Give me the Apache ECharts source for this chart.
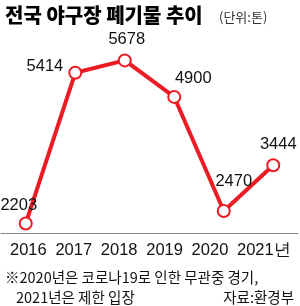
<!DOCTYPE html>
<html><head><meta charset="utf-8">
<script src="https://cdn.jsdelivr.net/npm/echarts@6/dist/echarts.min.js"></script>
<style>html,body{margin:0;padding:0;background:#fff}#c{width:300px;height:306px}</style>
</head><body><div id="c"></div>
<script>
const years = ['2016','2017','2018','2019','2020','2021'];
const yearLabels = ['2016','2017','2018','2019','2020','2021년'];
const waste = [2203, 5414, 5678, 4900, 2470, 3444];

const numFont = '"Liberation Sans Narrow", "Liberation Sans", Arial, sans-serif';
const krFont = '"Noto Sans CJK KR", sans-serif';
const red = '#ec1c24';

const labelCfg = [
  {position:'top', offset:[-7,2]},
  {position:'left', offset:[0,-6]},
  {position:'top', offset:[2,0]},
  {position:'top', offset:[19,2]},
  {position:'top', offset:[10,-9]},
  {position:'top', offset:[5,0]}
];

const chart = echarts.init(document.getElementById('c'), null, {renderer:'canvas'});
chart.setOption({
  animation:false,
  backgroundColor:'#fff',
  title:[
    {text:'전국 야구장 폐기물 추이', left:0, top:0, textStyle:{fontFamily:krFont, fontWeight:900, fontSize:20, color:'#000'}},
    {text:'(단위:톤)', left:214, top:6, textStyle:{fontFamily:krFont, fontWeight:'normal', fontSize:13, color:'#333'}},
    {text:'※2020년은 코로나19로 인한 무관중 경기,', left:0, top:265, textStyle:{fontFamily:krFont, fontWeight:'normal', fontSize:14.5, color:'#111'}},
    {text:'2021년은 제한 입장', left:11, top:285, textStyle:{fontFamily:krFont, fontWeight:'normal', fontSize:14.5, color:'#111'}},
    {text:'자료:환경부', right:1, top:285, textStyle:{fontFamily:krFont, fontWeight:'normal', fontSize:14.5, color:'#111'}}
  ],
  grid:[
    {left:1, right:2, top:50, bottom:73},
    {left:10, right:63, top:0, bottom:73}
  ],
  xAxis:[
    {type:'category', gridIndex:0, data:years, boundaryGap:true,
     axisLine:{lineStyle:{color:'#888', width:1}},
     axisTick:{alignWithLabel:true, inside:true, length:11, lineStyle:{color:'#888'}},
     axisLabel:{show:false}},
    {type:'category', gridIndex:1, data:yearLabels, boundaryGap:false,
     axisLine:{show:false}, axisTick:{show:false},
     axisLabel:{show:true, align:'left', margin:9, interval:0, fontFamily:numFont, fontSize:16.5, color:'#111'}}
  ],
  yAxis:[
    {type:'value', gridIndex:0, min:2000, max:5900, show:false},
    {type:'value', gridIndex:1, show:false}
  ],
  series:[{
    type:'line', xAxisIndex:0, yAxisIndex:0,
    data: waste.map((v,i)=>({value:v, label:labelCfg[i]})),
    symbol:'circle', symbolSize:12, showAllSymbol:true,
    lineStyle:{color:red, width:4},
    itemStyle:{color:'#fff', borderColor:red, borderWidth:2},
    label:{show:true, fontFamily:numFont, fontSize:16.5, color:'#111', distance:5},
    z:3
  }]
});
</script></body></html>
